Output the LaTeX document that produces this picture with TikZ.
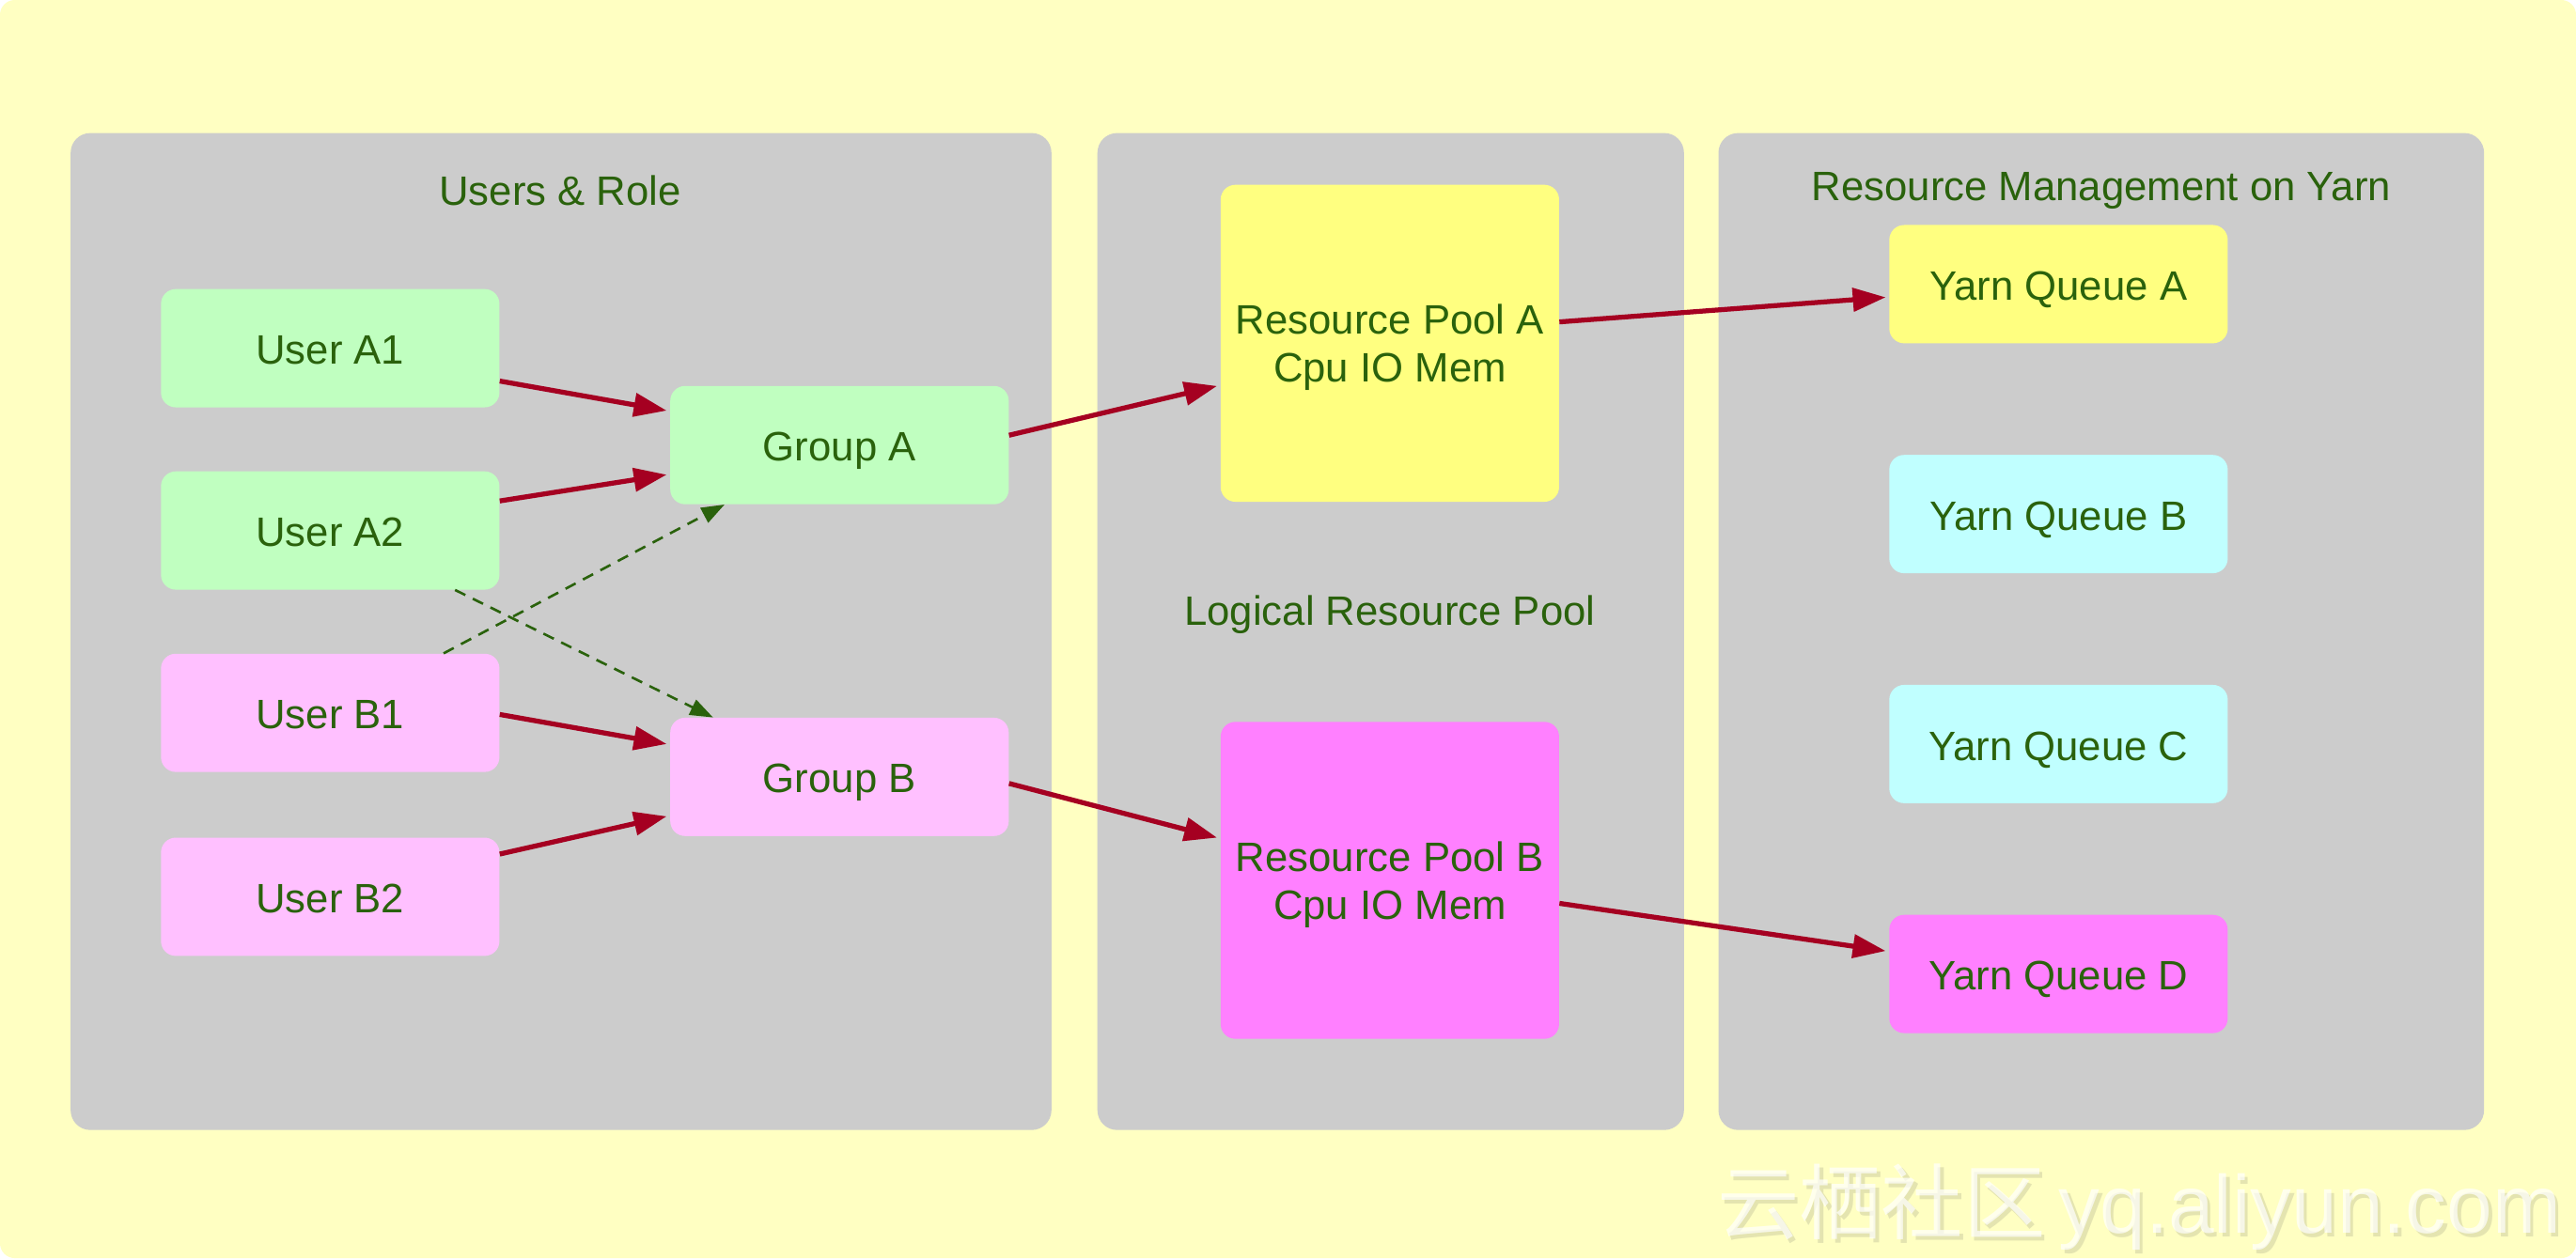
\documentclass[tikz,border=0pt]{standalone}
\usepackage{fontspec}
\setmainfont{Liberation Sans}
\newfontfamily\cjkfont{Noto Sans CJK SC}
\usetikzlibrary{arrows.meta,calc}
\definecolor{bgyellow}{RGB}{255,255,194}
\definecolor{panelgrey}{RGB}{204,204,204}
\definecolor{lgreen}{RGB}{192,255,192}
\definecolor{lpink}{RGB}{255,192,255}
\definecolor{nyellow}{RGB}{255,255,128}
\definecolor{ncyan}{RGB}{192,255,255}
\definecolor{nmagenta}{RGB}{255,128,255}
\definecolor{txtgreen}{RGB}{42,98,12}
\definecolor{arrred}{RGB}{165,0,33}
\definecolor{wmshadow}{RGB}{228,228,176}
\tikzset{
  panel/.style={fill=panelgrey, draw=none, rounded corners=12pt},
  ttl/.style={text=txtgreen, font=\fontsize{25}{29}\selectfont, inner sep=0pt},
  box/.style={rectangle, rounded corners=9pt, draw=none, minimum width=206pt, minimum height=72pt,
              text=txtgreen, font=\fontsize{25}{29}\selectfont, align=center, inner sep=0pt,
              text height=19.6pt, text depth=0pt},
  poolbox/.style={rectangle, rounded corners=9pt, draw=none, minimum width=206pt, minimum height=193pt,
              text=txtgreen, font=\fontsize{25}{29}\selectfont, align=center, inner sep=0pt,
              text depth=0pt},
  redarrow/.style={draw=arrred, line width=3pt, -{Triangle[length=20pt,width=14pt]}},
  dasharrow/.style={draw=txtgreen, line width=1.5pt, dash pattern=on 7pt off 5pt,
                    -{Triangle[length=14pt,width=10pt]}},
  wm/.style={font=\fontsize{50}{56}\selectfont, inner sep=0pt, anchor=base west}
}
\begin{document}
\begin{tikzpicture}[x=1pt,y=-1pt]
\useasboundingbox (0,0) rectangle (1568,766);
\fill[white] (0,0) rectangle (1568,766);
\fill[bgyellow, rounded corners=9pt] (0,0) rectangle (1568,766);

% panels
\fill[panel] (43,81) rectangle (640,688);
\fill[panel] (668,81) rectangle (1025,688);
\fill[panel] (1046,81) rectangle (1512,688);

\node[ttl] (t1) at (341,116) {Users \& Role};
\node[ttl] (t2) at (846,374) {Logical Resource Pool};
\node[ttl] (t3) at (1279,116) {Resource Management on Yarn};

% nodes
\node[box, fill=lgreen] (ua1) at (201,212) {User A1};
\node[box, fill=lgreen] (ua2) at (201,323) {User A2};
\node[box, fill=lpink]  (ub1) at (201,434) {User B1};
\node[box, fill=lpink]  (ub2) at (201,546) {User B2};
\node[box, fill=lgreen] (ga)  at (511,271) {Group A};
\node[box, fill=lpink]  (gb)  at (511,473) {Group B};
\node[poolbox, fill=nyellow]  (rpa) at (846,209) {Resource Pool A\\Cpu IO Mem};
\node[poolbox, fill=nmagenta] (rpb) at (846,536) {Resource Pool B\\Cpu IO Mem};
\node[box, fill=nyellow]  (yqa) at (1253,173) {Yarn Queue A};
\node[box, fill=ncyan]    (yqb) at (1253,313) {Yarn Queue B};
\node[box, fill=ncyan]    (yqc) at (1253,453) {Yarn Queue C};
\node[box, fill=nmagenta] (yqd) at (1253,593) {Yarn Queue D};

% red connectors
\draw[redarrow] ([yshift=-20pt]ua1.east) -- ([xshift=-2pt,yshift=21pt]ga.west);
\draw[redarrow] ([yshift=18pt]ua2.east) -- ([xshift=-2pt,yshift=-18pt]ga.west);
\draw[redarrow] ([yshift=-1pt]ub1.east) -- ([xshift=-2pt,yshift=20pt]gb.west);
\draw[redarrow] ([yshift=26pt]ub2.east) -- ([xshift=-2pt,yshift=-24pt]gb.west);
\draw[redarrow] ([yshift=6pt]ga.east) -- ([xshift=-2pt,yshift=-26pt]rpa.west);
\draw[redarrow] ([yshift=-4pt]gb.east) -- ([xshift=-2pt,yshift=26pt]rpb.west);
\draw[redarrow] ([yshift=13pt]rpa.east) -- ([xshift=-2pt,yshift=-8pt]yqa.west);
\draw[redarrow] ([yshift=-14pt]rpb.east) -- ([xshift=-2pt,yshift=14pt]yqd.west);

% dashed connectors
\draw[dasharrow] ([xshift=76pt]ua2.south) -- ([xshift=-77pt]gb.north);
\draw[dasharrow] ([xshift=69pt]ub1.north) -- ([xshift=-70pt]ga.south);

% watermark
\node[wm, text=wmshadow] (wmcs) at (1047,753) {\cjkfont 云栖社区};
\node[wm, text=white, opacity=0.7] (wmc) at (1045,751) {\cjkfont 云栖社区};
\node[wm, text=wmshadow] (wmls) at (1255,753) {yq.aliyun.com};
\node[wm, text=white, opacity=0.7] (wml) at (1253,751) {yq.aliyun.com};
\end{tikzpicture}
\end{document}
